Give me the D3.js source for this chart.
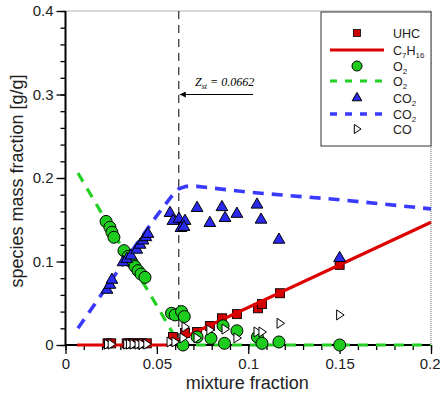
<!DOCTYPE html>
<html><head><meta charset="utf-8">
<script src="https://cdn.jsdelivr.net/npm/d3@7"></script>
<style>body{margin:0;background:#fff}svg{display:block}</style>
</head><body>
<svg id="c" width="440" height="395"></svg>
<script>
// ---- data ----
const xTicks = [0, 0.05, 0.1, 0.15, 0.2];
const xTickLabels = ["0", "0.05", "0.1", "0.15", "0.2"];
const yTicks = [0, 0.1, 0.2, 0.3, 0.4];
const yTickLabels = ["0", "0.1", "0.2", "0.3", "0.4"];
const zst = 0.062;
const zstLabel = "0.0662";

const uhcX = [0.023,0.025,0.0335,0.035,0.037,0.0397,0.0418,0.0445,0.0588,0.0654,0.072,0.079,0.0856,0.0938,0.1053,0.1075,0.1174,0.150];
const uhcY = [0.002,0.002,0.002,0.002,0.002,0.002,0.002,0.002,0.0096,0.0144,0.0156,0.0228,0.032,0.037,0.044,0.049,0.062,0.096];

const c7h16X = [0.0063,0.056,0.2];
const c7h16Y = [0,0,0.147];

const o2X = [0.0222,0.0243,0.0254,0.0265,0.032,0.0342,0.0364,0.038,0.0397,0.0413,0.0435,0.058,0.060,0.0635,0.065,0.0643,0.072,0.0796,0.0862,0.087,0.0938,0.105,0.1075,0.1168,0.150];
const o2Y = [0.148,0.141,0.135,0.129,0.113,0.106,0.099,0.094,0.089,0.085,0.081,0.038,0.036,0.040,0.034,0.0,0.0096,0.008,0.023,0.002,0.017,0.0096,0.002,0.0036,0.0];

const o2LineX = [0.0068,0.02,0.035,0.05,0.0625,0.1,0.15,0.2];
const o2LineY = [0.206,0.157,0.102,0.047,0.0,0.0,0.0,0.0];

const co2X = [0.0227,0.0243,0.0254,0.0315,0.0336,0.0358,0.039,0.0408,0.0424,0.044,0.0451,0.0572,0.0588,0.0621,0.0654,0.0632,0.0648,0.072,0.079,0.0856,0.0873,0.0938,0.1048,0.107,0.1168,0.150];
const co2Y = [0.066,0.072,0.078,0.099,0.103,0.107,0.114,0.120,0.125,0.129,0.133,0.158,0.1485,0.151,0.1485,0.140,0.1413,0.164,0.146,0.165,0.152,0.157,0.168,0.150,0.126,0.104];

const co2LineX = [0.0068,0.03,0.05,0.058,0.062,0.066,0.072,0.1,0.15,0.2];
const co2LineY = [0.020,0.093,0.155,0.178,0.187,0.190,0.190,0.183,0.174,0.163];

const coX = [0.023,0.025,0.0335,0.035,0.037,0.0397,0.0418,0.0445,0.0572,0.0599,0.0643,0.0654,0.072,0.079,0.0873,0.0938,0.1048,0.1075,0.1174,0.150];
const coY = [0.001,0.001,0.001,0.001,0.001,0.001,0.001,0.001,0.0036,0.0036,0.0084,0.0216,0.0084,0.018,0.019,0.0084,0.0156,0.0156,0.026,0.036];

// ---- chart ----
const svg = d3.select("#c");
const L = 65.5, R = 431, T = 11, B = 345;
const x = d3.scaleLinear().domain([0, 0.2]).range([L, R]);
const y = d3.scaleLinear().domain([0, 0.4]).range([B, T]);
const font = "'Liberation Sans', Arial, sans-serif";

// frame top/right dotted
svg.append("line").attr("x1", L).attr("x2", R).attr("y1", T).attr("y2", T)
  .attr("stroke", "#666").attr("stroke-width", 1).attr("stroke-dasharray", "1,1");
svg.append("line").attr("x1", R).attr("x2", R).attr("y1", T).attr("y2", B)
  .attr("stroke", "#666").attr("stroke-width", 1).attr("stroke-dasharray", "1,1");

// axes
const xMinor = d3.range(0, 0.2001, 0.01);
const yMinor = d3.range(0, 0.4001, 0.02);
const gx = svg.append("g").attr("transform", `translate(0,${B})`);
gx.call(d3.axisBottom(x).tickValues(xMinor).tickSize(5).tickFormat(""));
gx.call(g => g.select(".domain").remove());
const gx2 = svg.append("g").attr("transform", `translate(0,${B})`)
  .call(d3.axisBottom(x).tickValues(xTicks).tickSize(9).tickPadding(4)
    .tickFormat((d, i) => xTickLabels[i]));
gx2.selectAll("text").attr("font-family", font).attr("font-size", 15).attr("fill", "#222");
gx2.selectAll("text").filter(d => d === 0.2).attr("text-anchor", "end").attr("x", 9);
gx2.select(".domain").attr("stroke-width", 2).attr("d", `M${L},0H${R}`);

const gy = svg.append("g").attr("transform", `translate(${L},0)`);
gy.call(d3.axisLeft(y).tickValues(yMinor).tickSize(5).tickFormat(""));
gy.call(g => g.select(".domain").remove());
const gy2 = svg.append("g").attr("transform", `translate(${L},0)`)
  .call(d3.axisLeft(y).tickValues(yTicks).tickSize(9).tickPadding(3)
    .tickFormat((d, i) => yTickLabels[i]));
gy2.selectAll("text").attr("font-family", font).attr("font-size", 15).attr("fill", "#222");
svg.selectAll(".tick line").attr("stroke", "#000").attr("stroke-width", 1.3);
gy2.select(".domain").attr("stroke-width", 2).attr("d", `M0,${T}V${B}`);

// axis titles
svg.append("text").attr("x", x(0.1) - 1).attr("y", 389).attr("text-anchor", "middle")
  .attr("font-family", font).attr("font-size", 18).attr("fill", "#222").text("mixture fraction");
svg.append("text").attr("transform", `translate(23,${(T + B) / 2 + 3}) rotate(-90)`)
  .attr("text-anchor", "middle").attr("font-family", font).attr("font-size", 18)
  .attr("fill", "#222").text("species mass fraction [g/g]");

// Zst vertical line
svg.append("line").attr("x1", x(zst)).attr("x2", x(zst)).attr("y1", T).attr("y2", B)
  .attr("stroke", "#000").attr("stroke-width", 1).attr("stroke-dasharray", "8,6");

const line = d3.line().x(d => x(d[0])).y(d => y(d[1]));
const zip = (a, b) => a.map((v, i) => [v, b[i]]);

// lines
svg.append("path").attr("d", line(zip(o2LineX, o2LineY))).attr("fill", "none")
  .attr("stroke", "#22d022").attr("stroke-width", 3.2).attr("stroke-dasharray", "10,8");
svg.append("path").attr("d", line(zip(co2LineX, co2LineY))).attr("fill", "none")
  .attr("stroke", "#3a3aff").attr("stroke-width", 3.6).attr("stroke-dasharray", "11,8");

// marker helpers
const tri = d3.symbol().type(d3.symbolTriangle).size(60);
const triRight = s => `M${-s * 0.6},${-s}L${s * 0.9},0L${-s * 0.6},${s}Z`;

// UHC squares
svg.append("g").selectAll("rect").data(zip(uhcX, uhcY)).join("rect")
  .attr("x", d => x(d[0]) - 4.5).attr("y", d => y(d[1]) - 4.5)
  .attr("width", 9).attr("height", 9)
  .attr("fill", "#cc0000").attr("stroke", "#000").attr("stroke-width", 0.9);
// C7H16 line
svg.append("path").attr("d", line(zip(c7h16X, c7h16Y))).attr("fill", "none")
  .attr("stroke", "#dd0000").attr("stroke-width", 3.2);

// O2 circles
svg.append("g").selectAll("circle").data(zip(o2X, o2Y)).join("circle")
  .attr("cx", d => x(d[0])).attr("cy", d => y(d[1])).attr("r", 6)
  .attr("fill", "#1ecc1e").attr("stroke", "#000").attr("stroke-width", 1);

// CO2 triangles
svg.append("g").selectAll("path").data(zip(co2X, co2Y)).join("path")
  .attr("transform", d => `translate(${x(d[0])},${y(d[1])})`).attr("d", tri)
  .attr("fill", "#2a2aee").attr("stroke", "#000").attr("stroke-width", 1);

// CO triangles
svg.append("g").selectAll("path").data(zip(coX, coY)).join("path")
  .attr("transform", d => `translate(${x(d[0])},${y(d[1])})`).attr("d", triRight(5))
  .attr("fill", "#fff").attr("stroke", "#000").attr("stroke-width", 1);

// annotation
svg.append("defs").append("marker").attr("id", "ah").attr("viewBox", "0 0 10 10")
  .attr("refX", 10).attr("refY", 5).attr("markerWidth", 10).attr("markerHeight", 6)
  .attr("markerUnits", "userSpaceOnUse").attr("orient", "auto")
  .append("path").attr("d", "M0,0L10,5L0,10Z").attr("fill", "#000");
svg.append("line").attr("x1", 253).attr("x2", x(zst) + 1).attr("y1", 94.5).attr("y2", 94.5)
  .attr("stroke", "#000").attr("stroke-width", 1.2).attr("marker-end", "url(#ah)");
const ann = svg.append("text").attr("x", 195).attr("y", 86)
  .attr("font-family", "'Liberation Serif', 'Times New Roman', serif")
  .attr("font-style", "italic").attr("font-size", 12).attr("fill", "#000");
ann.append("tspan").text("Z");
ann.append("tspan").attr("font-size", 8).attr("dy", 3).text("st");
ann.append("tspan").attr("dy", -3).text(" = " + zstLabel);

// legend
const lg = svg.append("g");
lg.append("rect").attr("x", 321).attr("y", 12).attr("width", 110).attr("height", 134)
  .attr("fill", "#fff").attr("stroke", "#333").attr("stroke-width", 1);
const lx = 357, tx = 393;
const rows = [33, 50, 66, 81, 98, 114, 129];
lg.append("rect").attr("x", lx - 3.5).attr("y", rows[0] - 3.5).attr("width", 7).attr("height", 7)
  .attr("fill", "#cc0000").attr("stroke", "#000").attr("stroke-width", 0.8);
lg.append("line").attr("x1", 330).attr("x2", 384).attr("y1", rows[1]).attr("y2", rows[1])
  .attr("stroke", "#dd0000").attr("stroke-width", 3);
lg.append("circle").attr("cx", lx).attr("cy", rows[2]).attr("r", 5)
  .attr("fill", "#1ecc1e").attr("stroke", "#000").attr("stroke-width", 1);
lg.append("line").attr("x1", 330).attr("x2", 384).attr("y1", rows[3]).attr("y2", rows[3])
  .attr("stroke", "#22d022").attr("stroke-width", 3).attr("stroke-dasharray", "7,8");
lg.append("path").attr("transform", `translate(${lx},${rows[4]})`)
  .attr("d", d3.symbol().type(d3.symbolTriangle).size(40))
  .attr("fill", "#2a2aee").attr("stroke", "#000").attr("stroke-width", 1);
lg.append("line").attr("x1", 330).attr("x2", 384).attr("y1", rows[5]).attr("y2", rows[5])
  .attr("stroke", "#3a3aff").attr("stroke-width", 3.4).attr("stroke-dasharray", "7,8");
lg.append("path").attr("transform", `translate(${lx},${rows[6]})`).attr("d", triRight(4.5))
  .attr("fill", "#fff").attr("stroke", "#000").attr("stroke-width", 1);

function ltext(yy, parts) {
  const t = lg.append("text").attr("x", tx).attr("y", yy + 4.5)
    .attr("font-family", font).attr("font-size", 12.5).attr("fill", "#222");
  parts.forEach(p => {
    const s = t.append("tspan").text(p[0]);
    if (p[1]) s.attr("font-size", 8).attr("dy", 3);
    if (p[2]) s.attr("dy", -3);
  });
}
ltext(rows[0], [["UHC"]]);
ltext(rows[1], [["C"], ["7", 1], ["H", 0, 1], ["16", 1]]);
ltext(rows[2], [["O"], ["2", 1]]);
ltext(rows[3], [["O"], ["2", 1]]);
ltext(rows[4], [["CO"], ["2", 1]]);
ltext(rows[5], [["CO"], ["2", 1]]);
ltext(rows[6], [["CO"]]);
</script>
</body></html>
